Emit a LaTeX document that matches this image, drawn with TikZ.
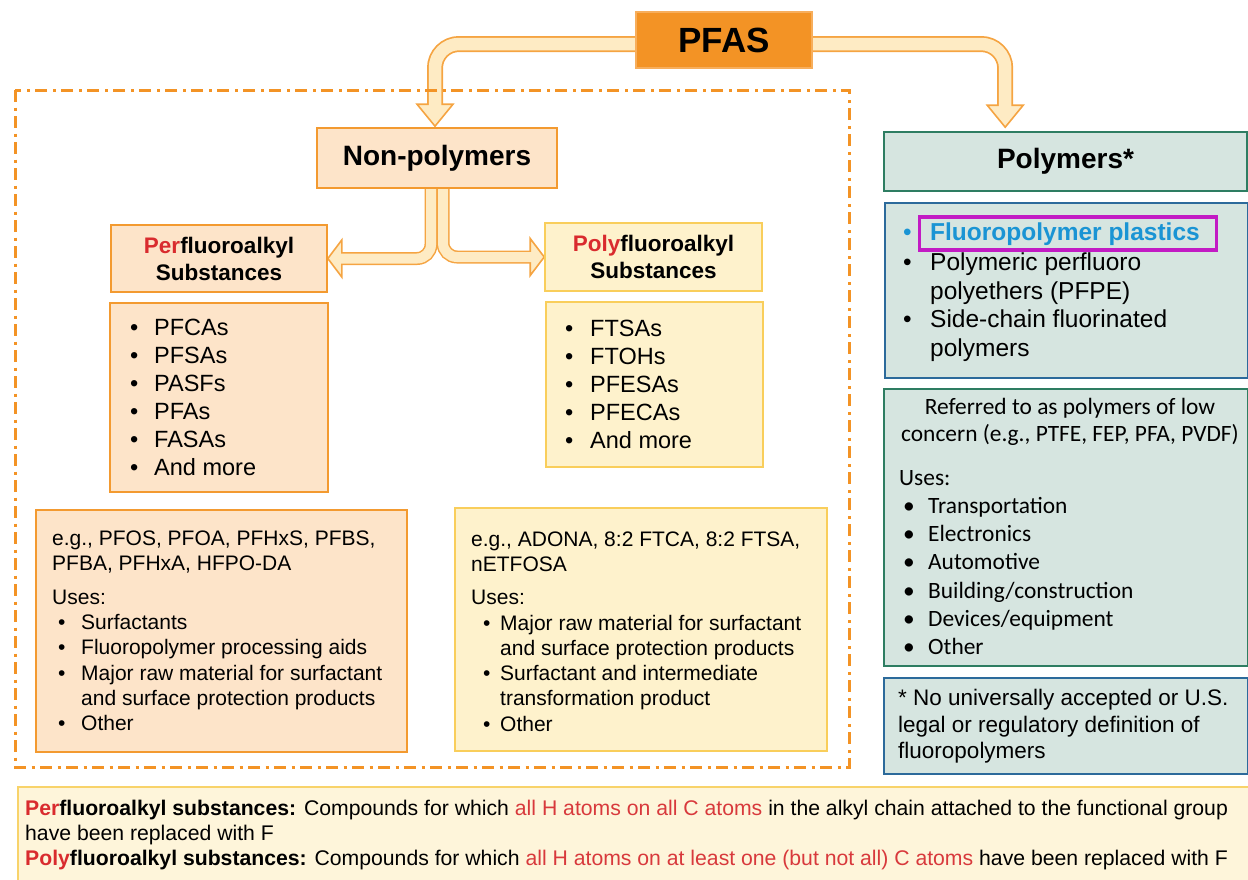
\documentclass[tikz,border=0pt]{standalone}
\usepackage{fontspec}
\setmainfont{Liberation Sans}
\newfontfamily\carlfont{Carlito}
\usetikzlibrary{calc}
\definecolor{pfasfill}{HTML}{F39325}
\definecolor{pfasbord}{HTML}{F7AE5C}
\definecolor{peach}{HTML}{FDE4C9}
\definecolor{orangeb}{HTML}{F39A30}
\definecolor{yellowf}{HTML}{FEF2CC}
\definecolor{yellowb}{HTML}{F9CE5B}
\definecolor{arrowf}{HTML}{FEEBC4}
\definecolor{arrowb}{HTML}{F5A442}
\definecolor{sage}{HTML}{D6E5E0}
\definecolor{greenb}{HTML}{2E7D62}
\definecolor{blueb}{HTML}{2C6A9B}
\definecolor{perred}{HTML}{D92B2E}
\definecolor{defred}{HTML}{D8393C}
\definecolor{fpblue}{HTML}{1A94D4}
\definecolor{magentab}{HTML}{C21BC4}
\definecolor{deffill}{HTML}{FEF5DA}
\definecolor{defb}{HTML}{F8D36A}
\definecolor{frameor}{HTML}{F39325}
\pgfdeclarelayer{bg}
\pgfsetlayers{bg,main}
\newcommand\bu[1][24pt]{\makebox[#1][l]{\textbullet}}
\begin{document}
\begin{tikzpicture}[x=1pt,y=-1pt,
  bx/.style={draw, line width=1.6pt, inner sep=0pt},
  boxnw/.style={bx, anchor=north west},
  txt/.style={anchor=west, align=left, inner sep=0pt},
  shaftout/.style={draw=arrowb, line width=16pt},
  shaftin/.style={draw=arrowf, line width=12.5pt},
  yout/.style={draw=arrowb, line width=13pt},
  yin/.style={draw=arrowf, line width=10pt},
  headst/.style={fill=arrowf, draw=arrowb, line width=1.6pt, line join=miter},
  frame/.style={draw=frameor, line width=3pt, dash pattern=on 12pt off 5.5pt on 3pt off 5.5pt}
]
\useasboundingbox (0,0) rectangle (1248,879);

% ---------- boxes ----------
\node[bx, fill=pfasfill, draw=pfasbord, minimum width=176pt, minimum height=56pt,
      font=\fontsize{35}{40}\selectfont\bfseries] (pfas) at (724,40) {PFAS};

\node[bx, fill=peach, draw=orangeb, minimum width=240pt, minimum height=60pt,
      font=\fontsize{28}{32}\selectfont\bfseries] (nonpoly) at (437,158) {Non-polymers};

\node[bx, fill=peach, draw=orangeb, minimum width=216pt, minimum height=67pt, align=center,
      font=\fontsize{22.5}{27}\selectfont\bfseries] (perhead) at (219,258.5)
      {\textcolor{perred}{Per}fluoroalkyl\\Substances};

\node[bx, fill=yellowf, draw=yellowb, minimum width=217pt, minimum height=68pt, align=center,
      font=\fontsize{22.5}{27}\selectfont\bfseries] (polyhead) at (653.5,257)
      {\textcolor{perred}{Poly}fluoroalkyl\\Substances};

\node[boxnw, fill=peach, draw=orangeb, minimum width=218pt, minimum height=189pt] (perlist) at (109,302) {};
\node[txt, font=\fontsize{23.5}{28}\selectfont] (perlistt) at (130,397)
  {\bu PFCAs\\ \bu PFSAs\\ \bu PASFs\\ \bu PFAs\\ \bu FASAs\\ \bu And more};

\node[boxnw, fill=yellowf, draw=yellowb, minimum width=217pt, minimum height=165pt] (polylist) at (545,301) {};
\node[txt, font=\fontsize{23.5}{28}\selectfont] (polylistt) at (565,384)
  {\bu[25pt]FTSAs\\ \bu[25pt]FTOHs\\ \bu[25pt]PFESAs\\ \bu[25pt]PFECAs\\ \bu[25pt]And more};

\node[boxnw, fill=peach, draw=orangeb, minimum width=371pt, minimum height=242pt] (perex) at (35,509) {};
\node[txt, font=\fontsize{21}{25.3}\selectfont] (perext) at (52,631)
  {e.g., PFOS, PFOA, PFHxS, PFBS,\\
   PFBA, PFHxA, HFPO-DA\\[8pt]
   Uses:\\
   \hspace*{6pt}\bu[23pt]Surfactants\\
   \hspace*{6pt}\bu[23pt]Fluoropolymer processing aids\\
   \hspace*{6pt}\bu[23pt]Major raw material for surfactant\\
   \hspace*{29pt}and surface protection products\\
   \hspace*{6pt}\bu[23pt]Other};

\node[boxnw, fill=yellowf, draw=yellowb, minimum width=372pt, minimum height=243pt] (polyex) at (454,507) {};
\node[txt, font=\fontsize{21}{25.3}\selectfont] (polyext) at (471,631.5)
  {e.g., ADONA, 8:2 FTCA, 8:2 FTSA,\\
   nETFOSA\\[8pt]
   Uses:\\
   \hspace*{12pt}\bu[17pt]Major raw material for surfactant\\
   \hspace*{29pt}and surface protection products\\
   \hspace*{12pt}\bu[17pt]Surfactant and intermediate\\
   \hspace*{29pt}transformation product\\
   \hspace*{12pt}\bu[17pt]Other};

% right column
\node[bx, fill=sage, draw=greenb, minimum width=363pt, minimum height=59pt,
      font=\fontsize{28}{32}\selectfont\bfseries] (polymers) at (1065.5,161.5) {Polymers*};

\node[boxnw, fill=sage, draw=blueb, minimum width=363pt, minimum height=175pt] (fplist) at (884,202) {};
\node[txt, font=\fontsize{24.5}{28.5}\selectfont] (fplistt) at (903,292)
  {{\color{fpblue}\bu[27pt]\textbf{Fluoropolymer plastics}}\\[2pt]
   \bu[27pt]Polymeric perfluoro\\
   \hspace*{27pt}polyethers (PFPE)\\
   \bu[27pt]Side-chain fluorinated\\
   \hspace*{27pt}polymers};
\node[draw=magentab, line width=3.5pt, minimum width=297pt, minimum height=33pt, inner sep=0pt] (fpbox) at (1068,233.5) {};

\node[boxnw, fill=sage, draw=greenb, minimum width=364pt, minimum height=277pt] (lowc) at (883,388) {};
\node[align=center, inner sep=0pt, font=\carlfont\fontsize{23.4}{27}\selectfont] (lowch) at (1070,421.5)
  {Referred to as polymers of low\\ concern (e.g., PTFE, FEP, PFA, PVDF)};
\node[txt, font=\carlfont\fontsize{23.4}{28.3}\selectfont] (lowcb) at (899,562.5)
  {Uses:\\
   \hspace*{4pt}\bu[25pt]Transportation\\
   \hspace*{4pt}\bu[25pt]Electronics\\
   \hspace*{4pt}\bu[25pt]Automotive\\
   \hspace*{4pt}\bu[25pt]Building/construction\\
   \hspace*{4pt}\bu[25pt]Devices/equipment\\
   \hspace*{4pt}\bu[25pt]Other};

\node[boxnw, fill=sage, draw=blueb, minimum width=364pt, minimum height=96pt] (note) at (883,677) {};
\node[txt, font=\fontsize{22.5}{26.5}\selectfont] (notet) at (898,726.5)
  {* No universally accepted or U.S.\\ legal or regulatory definition of\\ fluoropolymers};

% definitions
\node[boxnw, fill=deffill, draw=defb, minimum width=1250pt, minimum height=120pt] (defs) at (17,786) {};
\node[txt, font=\fontsize{21.2}{25}\selectfont] (defst) at (25,835)
  {\textbf{\textcolor{perred}{Per}fluoroalkyl substances:} Compounds for which \textcolor{defred}{all H atoms on all C atoms} in the alkyl chain attached to the functional group\\
   have been replaced with F\\
   \textbf{\textcolor{perred}{Poly}fluoroalkyl substances:} Compounds for which \textcolor{defred}{all H atoms on at least one (but not all) C atoms} have been replaced with F};

% ---------- arrows (behind boxes) ----------
\begin{pgfonlayer}{bg}
  % PFAS -> Non-polymers
  \coordinate (a1s) at ($(pfas.west)+(2,4)$);
  \coordinate (a1t) at ($(nonpoly.north)+(-2,-1)$);
  \coordinate (a1b) at ($(a1t)+(0,-22)$);
  \coordinate (a1e) at ($(a1t)+(0,-19)$);
  % PFAS -> Polymers
  \coordinate (a2s) at ($(pfas.east)+(-2,4)$);
  \coordinate (a2t) at ($(polymers.north west)+(122,-4)$);
  \coordinate (a2b) at ($(a2t)+(0,-22)$);
  \coordinate (a2e) at ($(a2t)+(0,-19)$);
  % Non-polymers -> Per / Poly
  \coordinate (b0) at ($(nonpoly.south)+(-6,0)$);
  \coordinate (b1t) at (perhead.east);
  \coordinate (b1b) at ($(b1t)+(14,0)$);
  \coordinate (b1e) at ($(b1t)+(11,0)$);
  \coordinate (c0) at ($(nonpoly.south)+(6,0)$);
  \coordinate (c1t) at (polyhead.west);
  \coordinate (c1b) at ($(c1t)+(-14,0)$);
  \coordinate (c1e) at ($(c1t)+(-11,0)$);

  \draw[shaftout, rounded corners=24pt] (a1s) -| (a1b);
  \draw[shaftout, rounded corners=24pt] (a2s) -| (a2b);
  \draw[yout, rounded corners=14pt] (b0) |- (b1b);
  \draw[yout, rounded corners=14pt] (c0) |- (c1b);

  \filldraw[headst] (a1t) -- ++(-18,-22) -- ++(36,0) -- cycle;
  \filldraw[headst] (a2t) -- ++(-18,-22) -- ++(36,0) -- cycle;
  \filldraw[headst] (b1t) -- ++(14,-18.5) -- ++(0,37) -- cycle;
  \filldraw[headst] (c1t) -- ++(-14,-18.5) -- ++(0,37) -- cycle;

  \draw[shaftin, rounded corners=24pt] (a1s) -| (a1e);
  \draw[shaftin, rounded corners=24pt] (a2s) -| (a2e);
  \draw[yin, rounded corners=14pt] (b0) |- (b1e);
  \draw[yin, rounded corners=14pt] (c0) |- (c1e);
\end{pgfonlayer}

% dash-dot frame round the non-polymer group
\draw[frame] (15,90) rectangle (849,767);
\end{tikzpicture}
\end{document}
